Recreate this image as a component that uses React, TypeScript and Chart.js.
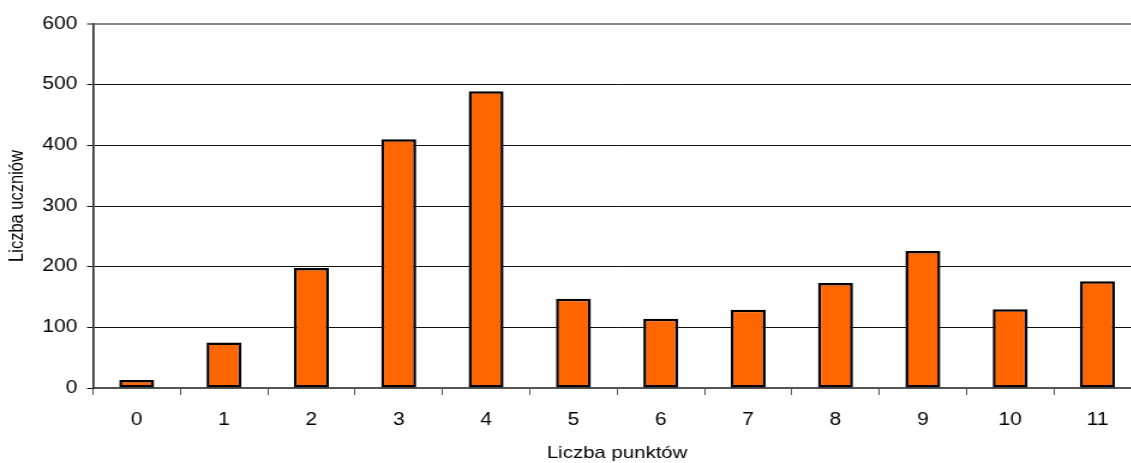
import React, { useEffect, useRef } from "react";
import { Chart, registerables } from "chart.js";

Chart.register(...registerables);

const categories: string[] = ["0", "1", "2", "3", "4", "5", "6", "7", "8", "9", "10", "11"];
const studentCounts: number[] = [13, 75, 198, 410, 489, 147, 114, 129, 173, 226, 130, 176];
const yTitle = "Liczba uczniów";
const xTitle = "Liczba punktów";
const yMin = 0;
const yMax = 600;
const yStep = 100;

const STRETCH = 1.2;
const CANVAS_W = 951;
const CANVAS_H = 464;
const FONT = "'Liberation Sans', Arial, sans-serif";

export default function App() {
  const ref = useRef<HTMLCanvasElement | null>(null);

  useEffect(() => {
    if (!ref.current) return;
    const chart = new Chart(ref.current, {
      type: "bar",
      data: {
        labels: categories,
        datasets: [
          {
            data: studentCounts,
            backgroundColor: "#ff6600",
            borderColor: "#000000",
            borderWidth: 2.5,
            borderSkipped: false,
            barPercentage: 0.4,
            categoryPercentage: 1.0,
          },
        ],
      },
      options: {
        responsive: false,
        animation: false,
        devicePixelRatio: 1,
        layout: { padding: { top: 24, left: 0, right: 0, bottom: 0 } },
        plugins: { legend: { display: false }, tooltip: { enabled: false } },
        scales: {
          x: {
            offset: true,
            afterFit: (scale: any) => {
              scale.height = 76;
            },
            grid: {
              offset: true,
              drawOnChartArea: false,
              drawTicks: true,
              tickLength: 7,
              color: "#555555",
              lineWidth: 1,
            },
            border: { display: true, color: "#555555", width: 2 },
            ticks: {
              color: "#000000",
              padding: 15,
              maxRotation: 0,
              font: { family: FONT, size: 17.5 },
            },
            title: {
              display: true,
              text: xTitle,
              color: "#000000",
              padding: { top: 0, bottom: 0 },
              font: { family: FONT, size: 17 },
            },
          },
          y: {
            min: yMin,
            max: yMax,
            afterFit: (scale: any) => {
              scale.width = 77.5;
            },
            grid: {
              drawTicks: true,
              tickLength: 5,
              color: (ctx: any) => (ctx.tick && ctx.tick.value === yMax ? "#8a8a8a" : "#111111"),
              lineWidth: (ctx: any) => (ctx.tick && ctx.tick.value === yMax ? 2 : 1),
            },
            border: { display: true, color: "#333333", width: 1.7 },
            ticks: {
              stepSize: yStep,
              color: "#000000",
              padding: 8,
              font: { family: FONT, size: 17.5 },
            },
            title: {
              display: true,
              text: yTitle,
              color: "#000000",
              padding: { top: 5, bottom: 0 },
              font: { family: FONT, size: 16.5 },
            },
          },
        },
      },
    });
    return () => chart.destroy();
  }, []);

  return (
    <div
      style={{
        position: "fixed",
        left: 0,
        top: 0,
        width: 1131,
        height: 463,
        overflow: "hidden",
        background: "#ffffff",
      }}
    >
      <canvas
        ref={ref}
        width={CANVAS_W}
        height={CANVAS_H}
        style={{
          width: CANVAS_W + "px",
          height: CANVAS_H + "px",
          transform: `scaleX(${STRETCH})`,
          transformOrigin: "0 0",
          display: "block",
        }}
      />
    </div>
  );
}
